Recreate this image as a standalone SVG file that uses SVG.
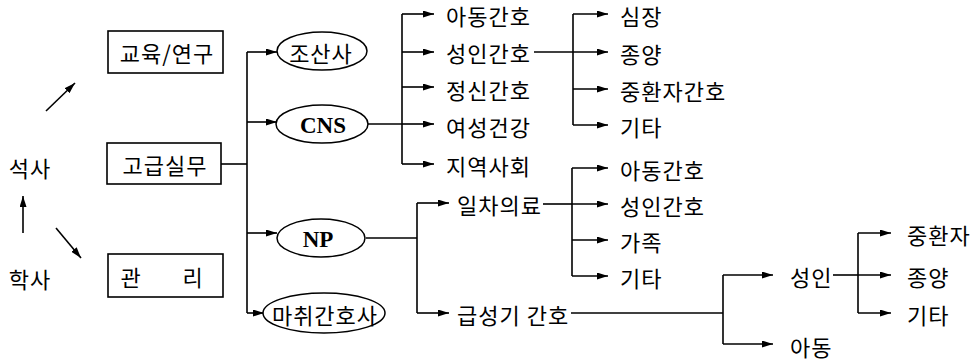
<svg xmlns="http://www.w3.org/2000/svg" width="974" height="362" viewBox="0 0 974 362">
<defs>
<marker id="ah" markerUnits="userSpaceOnUse" markerWidth="11" markerHeight="7" refX="11" refY="3.5" orient="auto">
<path d="M0,0 L11,3.5 L0,7 z" fill="#000"/>
</marker>
<style>
.t{font-family:"Noto Sans CJK KR","Noto Sans",sans-serif;font-size:22px;letter-spacing:1px;fill:#000;dominant-baseline:central}
.m{text-anchor:middle}
.e{font-family:"Liberation Serif","Times New Roman",serif;font-size:23px;font-weight:bold;fill:#000;text-anchor:middle;dominant-baseline:central}
.box{fill:#fff;stroke:#000;stroke-width:1.6}
.ell{fill:#fff;stroke:#000;stroke-width:1.5}
.c line,.c path{stroke:#000;stroke-width:1.6;fill:none}
.a{marker-end:url(#ah)}
</style>
</defs>
<rect width="974" height="362" fill="#fff"/>
<g class="c" id="connectors">
<line class="a" x1="23" y1="233" x2="23" y2="196"/>
<line class="a" x1="46" y1="111" x2="75" y2="83"/>
<line class="a" x1="56" y1="228" x2="81" y2="258"/>
<line x1="221" y1="164" x2="247" y2="164"/>
<line x1="247" y1="52" x2="247" y2="313"/>
<line class="a" x1="247" y1="52" x2="277" y2="52"/>
<line class="a" x1="247" y1="122" x2="277" y2="122"/>
<line class="a" x1="247" y1="233" x2="277" y2="233"/>
<line class="a" x1="247" y1="313" x2="264" y2="313"/>
<line x1="368" y1="124" x2="402" y2="124"/>
<line x1="402" y1="14" x2="402" y2="164"/>
<line class="a" x1="402" y1="14" x2="434" y2="14"/>
<line class="a" x1="402" y1="52" x2="434" y2="52"/>
<line class="a" x1="402" y1="87" x2="434" y2="87"/>
<line class="a" x1="402" y1="124" x2="434" y2="124"/>
<line class="a" x1="402" y1="164" x2="434" y2="164"/>
<line x1="534" y1="52" x2="573" y2="52"/>
<line x1="573" y1="14" x2="573" y2="125"/>
<line class="a" x1="573" y1="14" x2="608" y2="14"/>
<line class="a" x1="573" y1="52" x2="608" y2="52"/>
<line class="a" x1="573" y1="89" x2="608" y2="89"/>
<line class="a" x1="573" y1="125" x2="608" y2="125"/>
<line x1="366" y1="238" x2="417" y2="238"/>
<line x1="417" y1="203" x2="417" y2="313"/>
<line class="a" x1="417" y1="203" x2="449" y2="203"/>
<line class="a" x1="417" y1="313" x2="449" y2="313"/>
<line x1="543" y1="204" x2="572" y2="204"/>
<line x1="572" y1="168" x2="572" y2="276"/>
<line class="a" x1="572" y1="168" x2="608" y2="168"/>
<line class="a" x1="572" y1="204" x2="608" y2="204"/>
<line class="a" x1="572" y1="240" x2="608" y2="240"/>
<line class="a" x1="572" y1="276" x2="608" y2="276"/>
<line x1="571" y1="313" x2="723" y2="313"/>
<line x1="723" y1="275" x2="723" y2="344"/>
<line class="a" x1="723" y1="275" x2="773" y2="275"/>
<line class="a" x1="723" y1="344" x2="773" y2="344"/>
<line x1="833" y1="275" x2="858" y2="275"/>
<line x1="858" y1="233" x2="858" y2="313"/>
<line class="a" x1="858" y1="233" x2="891" y2="233"/>
<line class="a" x1="858" y1="275" x2="891" y2="275"/>
<line class="a" x1="858" y1="313" x2="891" y2="313"/>
</g>
<g id="n-masters"><text class="t m" x="30" y="167">석사</text></g>
<g id="n-bachelor"><text class="t m" x="30" y="278">학사</text></g>
<g id="n-edu"><rect class="box" x="108" y="31" width="115" height="42"/><text class="t m" x="167" y="52">교육/연구</text></g>
<g id="n-adv"><rect class="box" x="107" y="143" width="114" height="41"/><text class="t m" x="165" y="164">고급실무</text></g>
<g id="n-mgmt"><rect class="box" x="108" y="254" width="115" height="43"/><text class="t m" x="131" y="276">관</text><text class="t m" x="193" y="276">리</text></g>
<g id="n-midwife"><ellipse class="ell" cx="322" cy="51" rx="45" ry="19"/><text class="t m" x="321" y="52">조산사</text></g>
<g id="n-cns"><ellipse class="ell" cx="322" cy="124" rx="46" ry="19"/><text class="e" x="323" y="125">CNS</text></g>
<g id="n-np"><ellipse class="ell" cx="321" cy="238" rx="44" ry="19"/><text class="e" x="318" y="239">NP</text></g>
<g id="n-anes"><ellipse class="ell" cx="324" cy="313" rx="61" ry="20"/><text class="t m" x="325" y="314">마취간호사</text></g>
<g id="n-cns-child"><text class="t" x="446" y="15">아동간호</text></g>
<g id="n-cns-adult"><text class="t" x="446" y="52">성인간호</text></g>
<g id="n-cns-psych"><text class="t" x="446" y="89">정신간호</text></g>
<g id="n-cns-women"><text class="t" x="446" y="126">여성건강</text></g>
<g id="n-cns-comm"><text class="t" x="446" y="165">지역사회</text></g>
<g id="n-heart"><text class="t" x="620" y="15">심장</text></g>
<g id="n-onc1"><text class="t" x="620" y="53">종양</text></g>
<g id="n-icu1"><text class="t" x="620" y="90">중환자간호</text></g>
<g id="n-etc1"><text class="t" x="620" y="126">기타</text></g>
<g id="n-primary"><text class="t" x="457" y="204">일차의료</text></g>
<g id="n-acute"><text class="t" x="457" y="314">급성기 간호</text></g>
<g id="n-p-child"><text class="t" x="620" y="169">아동간호</text></g>
<g id="n-p-adult"><text class="t" x="620" y="205">성인간호</text></g>
<g id="n-p-family"><text class="t" x="620" y="241">가족</text></g>
<g id="n-p-etc"><text class="t" x="620" y="277">기타</text></g>
<g id="n-a-adult"><text class="t" x="790" y="276">성인</text></g>
<g id="n-a-child"><text class="t" x="790" y="346">아동</text></g>
<g id="n-icu2"><text class="t" x="907" y="234">중환자</text></g>
<g id="n-onc2"><text class="t" x="907" y="276">종양</text></g>
<g id="n-etc2"><text class="t" x="907" y="314">기타</text></g>
</svg>
